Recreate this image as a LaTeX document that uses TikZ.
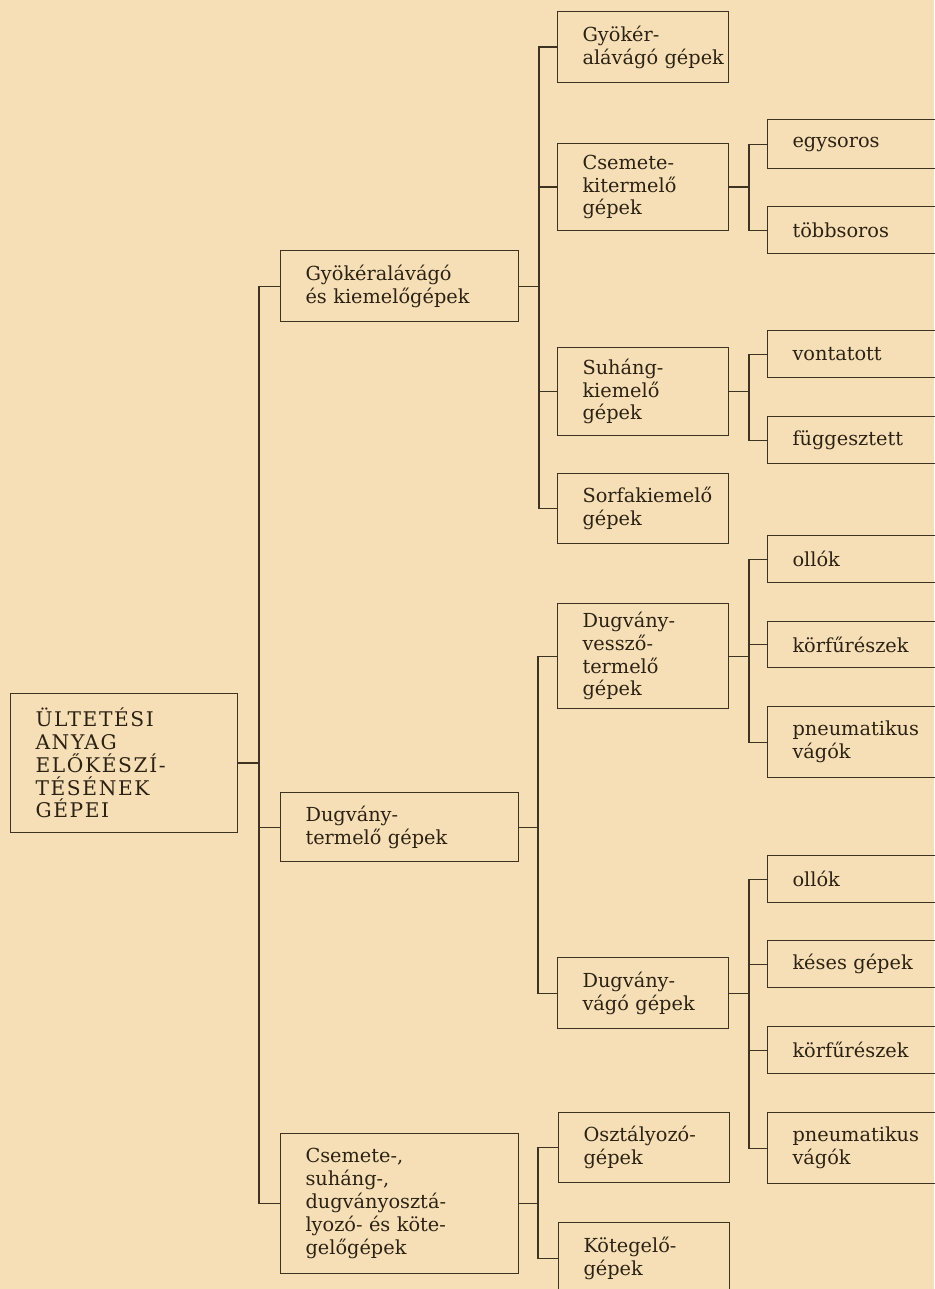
\documentclass[tikz,border=0pt]{standalone}
\usepackage{fontspec}
\setmainfont{DejaVu Serif}
\usepackage{xcolor}
\definecolor{paper}{RGB}{246,223,182}
\definecolor{ink}{RGB}{62,50,34}
\definecolor{type}{RGB}{44,34,20}
\hyphenpenalty=10000
\exhyphenpenalty=10000

\begin{document}
\begin{tikzpicture}[x = 0.02cm, y = -0.02cm, font = \fontsize{11}{13}\selectfont,
        box/.style = {draw = ink, text = type, line width = 0.6pt, anchor = north west,
            align = left, inner xsep = 0.5cm, inner ysep = 0pt},
        lev0/.style = {box, text width = 3.54cm, font = \fontsize{11.5}{13}\selectfont\addfontfeature{LetterSpace = 8}},
        lev1/.style = {box, text width = 3.76cm},
        lev2/.style = {box, text width = 2.42cm},
        lev3/.style = {box, text width = 3cm},
        link/.style = {draw = ink, line width = 0.6pt}]

        \fill[paper] (0,0) rectangle (934,1289);
        \useasboundingbox (0,0) rectangle (934,1289);

        \begin{scope}
        \node[lev0, minimum height = 2.78cm] (root) at (10,693) {ÜLTETÉSI\\ANYAG\\ELŐKÉSZÍ-\\TÉSÉNEK\\GÉPEI};
        \end{scope}

        \begin{scope}
        \node[lev1, minimum height = 1.42cm] (gyk) at (280,250) {Gyökéralávágó\\és~kiemelőgépek};
        \node[lev1, minimum height = 1.38cm] (dug) at (280,792) {Dugvány-\\termelő~gépek};
        \node[lev1, minimum height = 2.80cm] (csm) at (280,1133) {Csemete-,\\suháng-,\\dugványosztá-\\lyozó-~és~köte-\\gelőgépek};
        \end{scope}

        \begin{scope}
        \node[lev2, minimum height = 1.42cm] (gya) at (557,11) {Gyökér-\\alávágó~gépek};
        \node[lev2, minimum height = 1.74cm] (cski) at (557,143) {Csemete-\\kitermelő\\gépek};
        \node[lev2, minimum height = 1.76cm] (suh) at (557,347) {Suháng-\\kiemelő\\gépek};
        \node[lev2, minimum height = 1.40cm] (sorf) at (557,473) {Sorfakiemelő\\gépek};
        \node[lev2, minimum height = 2.10cm] (dvt) at (557,603) {Dugvány-\\vessző-\\termelő\\gépek};
        \node[lev2, minimum height = 1.42cm] (dva) at (557,957) {Dugvány-\\vágó~gépek};
        \node[lev2, minimum height = 1.40cm] (osz) at (558,1112) {Osztályozó-\\gépek};
        \node[lev2, minimum height = 1.44cm] (kot) at (558,1222) {Kötegelő-\\gépek};
        \end{scope}

        \begin{scope}
        \node[lev3, minimum height = 0.98cm] (egy) at (767,119) {egysoros};
        \node[lev3, minimum height = 0.94cm] (tobb) at (767,206) {többsoros};
        \node[lev3, minimum height = 0.94cm] (vont) at (767,330) {vontatott};
        \node[lev3, minimum height = 0.94cm] (fugg) at (767,416) {függesztett};
        \node[lev3, minimum height = 0.94cm] (oll1) at (767,535) {ollók};
        \node[lev3, minimum height = 0.92cm] (korf1) at (767,621) {körfűrészek};
        \node[lev3, minimum height = 1.42cm] (pneu1) at (767,706) {pneumatikus\\vágók};
        \node[lev3, minimum height = 0.94cm] (oll2) at (767,855) {ollók};
        \node[lev3, minimum height = 0.94cm] (kes) at (767,940) {késes~gépek};
        \node[lev3, minimum height = 0.94cm] (korf2) at (767,1026) {körfűrészek};
        \node[lev3, minimum height = 1.42cm] (pneu2) at (767,1112) {pneumatikus\\vágók};
        \end{scope}

        \draw[link] (root.east) -- ++(21,0) coordinate (t0);
        \draw[link] (t0) |- (gyk.west);
        \draw[link] (t0) |- (dug.west);
        \draw[link] (t0) |- (csm.west);

        \draw[link] (gyk.east) -- ++(20,0) coordinate (t1);
        \draw[link] (t1) |- (gya.west);
        \draw[link] (t1) |- (cski.west);
        \draw[link] (t1) |- (suh.west);
        \draw[link] (t1) |- (sorf.west);

        \draw[link] (dug.east) -- ++(19,0) coordinate (t2);
        \draw[link] (t2) |- (dvt.west);
        \draw[link] (t2) |- (dva.west);

        \draw[link] (csm.east) -- ++(19,0) coordinate (t3);
        \draw[link] (t3) |- (osz.west);
        \draw[link] (t3) |- (kot.west);

        \draw[link] (cski.east) -- ++(20,0) coordinate (t4);
        \draw[link] (t4) |- (egy.west);
        \draw[link] (t4) |- (tobb.west);

        \draw[link] (suh.east) -- ++(20,0) coordinate (t5);
        \draw[link] (t5) |- (vont.west);
        \draw[link] (t5) |- (fugg.west);

        \draw[link] (dvt.east) -- ++(20,0) coordinate (t6);
        \draw[link] (t6) |- (oll1.west);
        \draw[link] (t6) |- (korf1.west);
        \draw[link] (t6) |- (pneu1.west);

        \draw[link] (dva.east) -- ++(20,0) coordinate (t7);
        \draw[link] (t7) |- (oll2.west);
        \draw[link] (t7) |- (kes.west);
        \draw[link] (t7) |- (korf2.west);
        \draw[link] (t7) |- (pneu2.west);
\end{tikzpicture}
\end{document}
